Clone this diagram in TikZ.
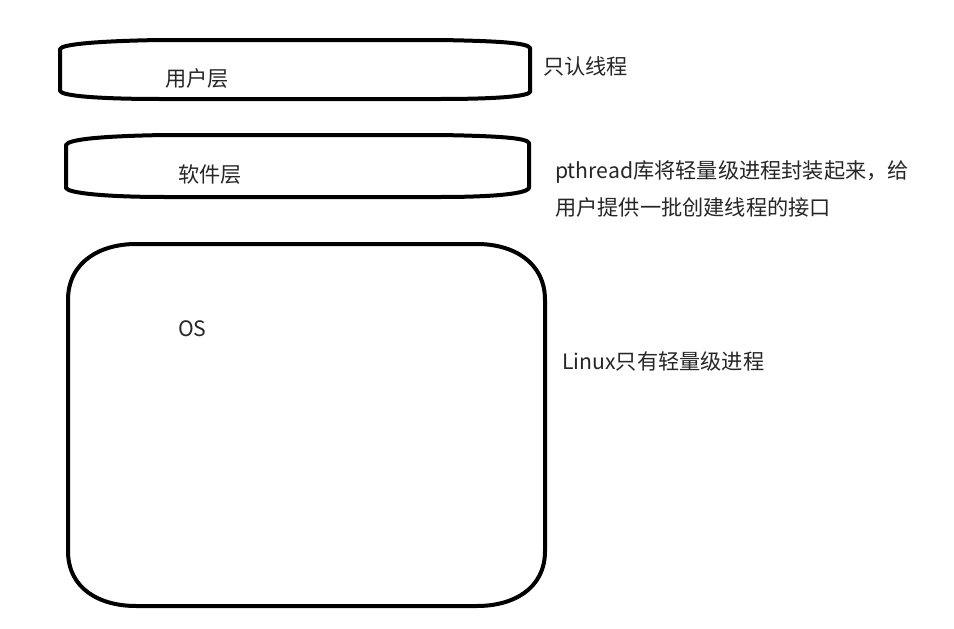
\documentclass[tikz,border=0pt]{standalone}
\usepackage{fontspec}
\setmainfont{Noto Sans CJK SC}
\begin{document}
\begin{tikzpicture}[x=1pt,y=-1pt,
  box/.style={draw=black,line width=4pt,line join=round},
  lbl/.style={anchor=west,inner sep=0pt,font=\fontsize{21.2pt}{25pt}\selectfont,text=black!85}]
\useasboundingbox[fill=white] (0,0) rectangle (954,629);
% user layer
\draw[box] (60,91) -- (60,49) .. controls (62,44) and (100,41) .. (160,40) -- (440,40)
  .. controls (500,41) and (528,43) .. (530,48) -- (530,92)
  .. controls (528,96) and (500,99) .. (440,99) -- (160,99)
  .. controls (100,99) and (62,96) .. cycle;
% software layer
\draw[box] (66,188) -- (66,145) .. controls (68,139) and (105,136) .. (165,135) -- (440,135)
  .. controls (500,136) and (527,138) .. (529,143) -- (529,188)
  .. controls (527,193) and (500,197) .. (440,197) -- (165,197)
  .. controls (105,197) and (68,193) .. cycle;
% OS
\draw[box] (68,300) .. controls (68,262) and (100,244) .. (136,244)
  -- (477,244) .. controls (513,244) and (545,262) .. (545,300)
  -- (545,551) .. controls (545,589) and (513,606) .. (477,606)
  -- (136,606) .. controls (100,606) and (68,589) .. (68,551) -- cycle;
\node[lbl] (user) at (165,78) {用户层};
\node[lbl] (soft) at (178,175) {软件层};
\node[lbl] (os) at (178,329) {OS};
\node[lbl] (t1) at (543,66) {只认线程};
\node[lbl] (t2) at (555,172) {pthread库将轻量级进程封装起来，给};
\node[lbl] (t3) at (555,207) {用户提供一批创建线程的接口};
\node[lbl] (t4) at (562,361) {Linux只有轻量级进程};
\end{tikzpicture}
\end{document}
